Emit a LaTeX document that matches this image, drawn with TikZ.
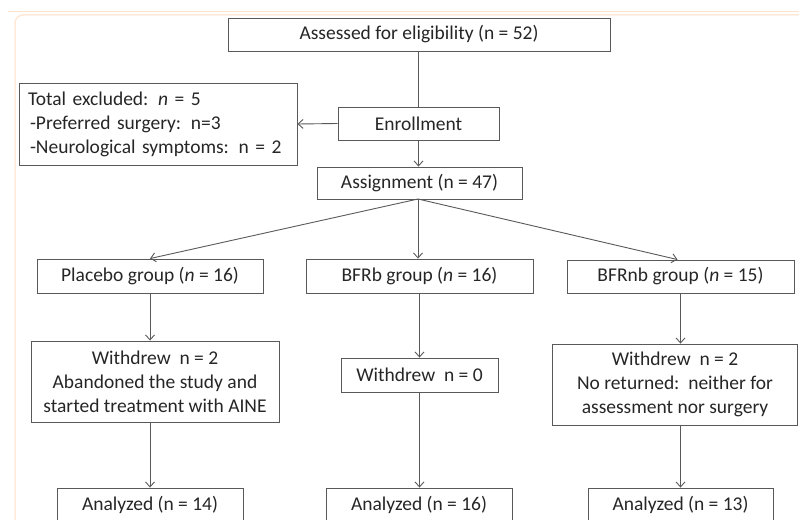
\documentclass[tikz,border=0pt]{standalone}
\usepackage{fontspec}
\setmainfont{Carlito}
\usetikzlibrary{arrows.meta}
\begin{document}
\begin{tikzpicture}[x=1pt,y=-1pt,
  box/.style={draw=black!65, line width=0.9pt, fill=white, inner sep=0pt, text=black!85,
    font=\fontsize{19.5}{24}\selectfont, align=center},
  conn/.style={draw=black!65, line width=0.9pt},
  arr/.style={conn, -{Straight Barb[length=5pt,width=9pt]}}]
\useasboundingbox (0,0) rectangle (799,519);
\clip (0,0) rectangle (799,519);
\fill[white] (0,0) rectangle (799,519);
\draw[red!15!orange!20, line width=1pt] (8,11.5) -- (799,11.5);
\draw[red!12!orange!15, line width=1.5pt, rounded corners=8pt] (15,15) -- (815,15) -- (815,540) -- (15,540) -- cycle;

\node[box, minimum width=382pt, minimum height=33pt] (assess) at (419,34.5) {Assessed for eligibility (n = 52)};
\node[box, minimum width=278pt, minimum height=82pt, text width=260pt, align=left] (excl) at (158,124)
  {Total excluded: \textit{n} = 5\\ \hspace*{2pt}-Preferred surgery: n=3\\ \hspace*{2pt}-Neurological symptoms: n = 2};
\node[box, minimum width=161pt, minimum height=33pt] (enroll) at (418.5,123.5) {Enrollment};
\node[box, minimum width=205pt, minimum height=32pt] (assign) at (419.5,183) {Assignment (n = 47)};

\node[box, minimum width=226pt, minimum height=34pt] (placebo) at (150,276) {Placebo group (\textit{n} = 16)};
\node[box, minimum width=227pt, minimum height=34pt] (bfrb) at (419.5,276) {BFRb group (\textit{n} = 16)};
\node[box, minimum width=227pt, minimum height=33pt] (bfrnb) at (680.5,276.5) {BFRnb group (\textit{n} = 15)};

\node[box, minimum width=248pt, minimum height=81pt] (wd1) at (155,381.5)
  {Withdrew\ \ n = 2\\ Abandoned the study and\\ started treatment with AINE};
\node[box, minimum width=157pt, minimum height=34pt] (wd0) at (419.5,375) {Withdrew\ \ n = 0};
\node[box, minimum width=245pt, minimum height=81pt] (wd2) at (675,384.5)
  {Withdrew\ \ n = 2\\ No returned:\ \ neither for\\ assessment nor surgery};

\node[box, minimum width=186pt, minimum height=34pt] (an1) at (150,505) {Analyzed (n = 14)};
\node[box, minimum width=186pt, minimum height=34pt] (an2) at (419,505) {Analyzed (n = 16)};
\node[box, minimum width=185pt, minimum height=34pt] (an3) at (680.5,505) {Analyzed (n = 13)};

\coordinate (asrc) at (418,199);
\draw[conn] (enroll.north |- assess.south) -- (enroll.north);
\draw[arr] (enroll.west) -- (excl.east);
\draw[arr] (enroll.south) -- (enroll.south |- assign.north);
\draw[arr] (asrc) -- (placebo.north);
\draw[arr] (asrc) -- (asrc |- bfrb.north);
\draw[arr] (asrc) -- ([xshift=-3pt]bfrnb.north);
\draw[arr] (placebo.south) -- (placebo.south |- wd1.north);
\draw[arr] (wd1.south -| an1.north) -- (an1.north);
\draw[arr] (bfrb.south) -- (bfrb.south |- wd0.north);
\draw[arr] (wd0.south) -- (wd0.south |- an2.north);
\draw[arr] (bfrnb.south) -- (bfrnb.south |- wd2.north);
\draw[arr] (wd2.south -| an3.north) -- (an3.north);
\end{tikzpicture}
\end{document}
